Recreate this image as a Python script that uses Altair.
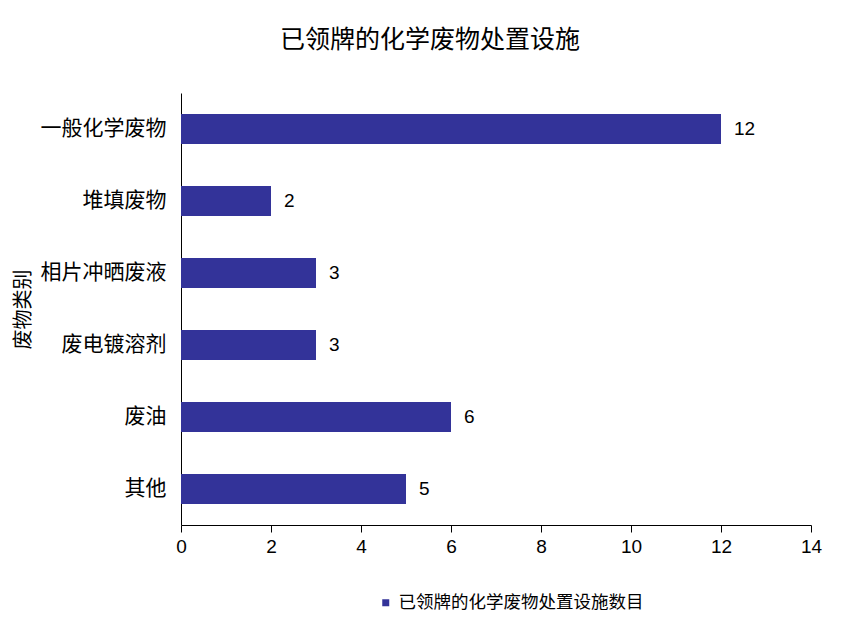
import altair as alt
import pandas as pd

categories = ["一般化学废物", "堆填废物", "相片冲晒废液", "废电镀溶剂", "废油", "其他"]
values = [12, 2, 3, 3, 6, 5]
series_name = "已领牌的化学废物处置设施数目"
chart_title = "已领牌的化学废物处置设施"
y_title = "废物类别"
x_ticks = [0, 2, 4, 6, 8, 10, 12, 14]

df = pd.DataFrame({"cat": categories, "val": values, "series": [series_name] * len(categories)})

CJK = "Noto Sans CJK SC"
LAT = "Liberation Sans"

y_enc = alt.Y(
    "cat:N",
    sort=categories,
    scale=alt.Scale(paddingInner=0.583, paddingOuter=0.29),
    axis=alt.Axis(
        title=y_title,
        titleFont=CJK,
        titleFontSize=20,
        titleFontWeight="normal",
        titleColor="#000000",
        titleX=-158,
        titleY=216,
        titleAngle=-90,
        titleAlign="center",
        titleBaseline="middle",
        labelFont=CJK,
        labelFontSize=21,
        labelColor="#000000",
        labelPadding=15,
        ticks=False,
        domainColor="#000000",
        domainWidth=1,
        grid=False,
    ),
)

x_enc = alt.X(
    "val:Q",
    scale=alt.Scale(domain=[0, 14], nice=False),
    axis=alt.Axis(
        title=None,
        values=x_ticks,
        labelFont=LAT,
        labelFontSize=19,
        labelColor="#000000",
        labelPadding=5,
        labelFlush=False,
        labelOverlap=False,
        tickColor="#000000",
        tickSize=7,
        domainColor="#000000",
        domainWidth=1,
        grid=False,
    ),
)

bars = alt.Chart(df).mark_bar(size=30).encode(
    x=x_enc,
    y=y_enc,
    color=alt.Color(
        "series:N",
        scale=alt.Scale(domain=[series_name], range=["#333399"]),
        legend=alt.Legend(
            title=None,
            orient="none",
            legendX=196,
            legendY=501,
            symbolType="square",
            symbolSize=49,
            symbolStrokeWidth=0,
            labelFont=CJK,
            labelFontSize=17.5,
            labelColor="#000000",
            labelOffset=4,
            labelLimit=500,
            padding=0,
        ),
    ),
)

labels = alt.Chart(df).mark_text(
    align="left", baseline="middle", dx=13, font=LAT, fontSize=19, color="#000000"
).encode(
    x="val:Q",
    y=alt.Y("cat:N", sort=categories),
    text="val:Q",
)

chart = (
    alt.layer(bars, labels)
    .properties(
        width=630,
        height=432,
        background="#ffffff",
        title=alt.TitleParams(
            text=chart_title,
            font=CJK,
            fontSize=25,
            fontWeight="normal",
            color="#000000",
            anchor="middle",
            dx=-66,
            offset=40,
        ),
        autosize=alt.AutoSizeParams(type="none"),
        padding={"left": 173, "top": 85, "right": 20, "bottom": 90},
    )
    .configure_view(stroke=None, strokeWidth=0)
)

chart.save("out.html", embed_options={"renderer": "svg", "actions": False})
